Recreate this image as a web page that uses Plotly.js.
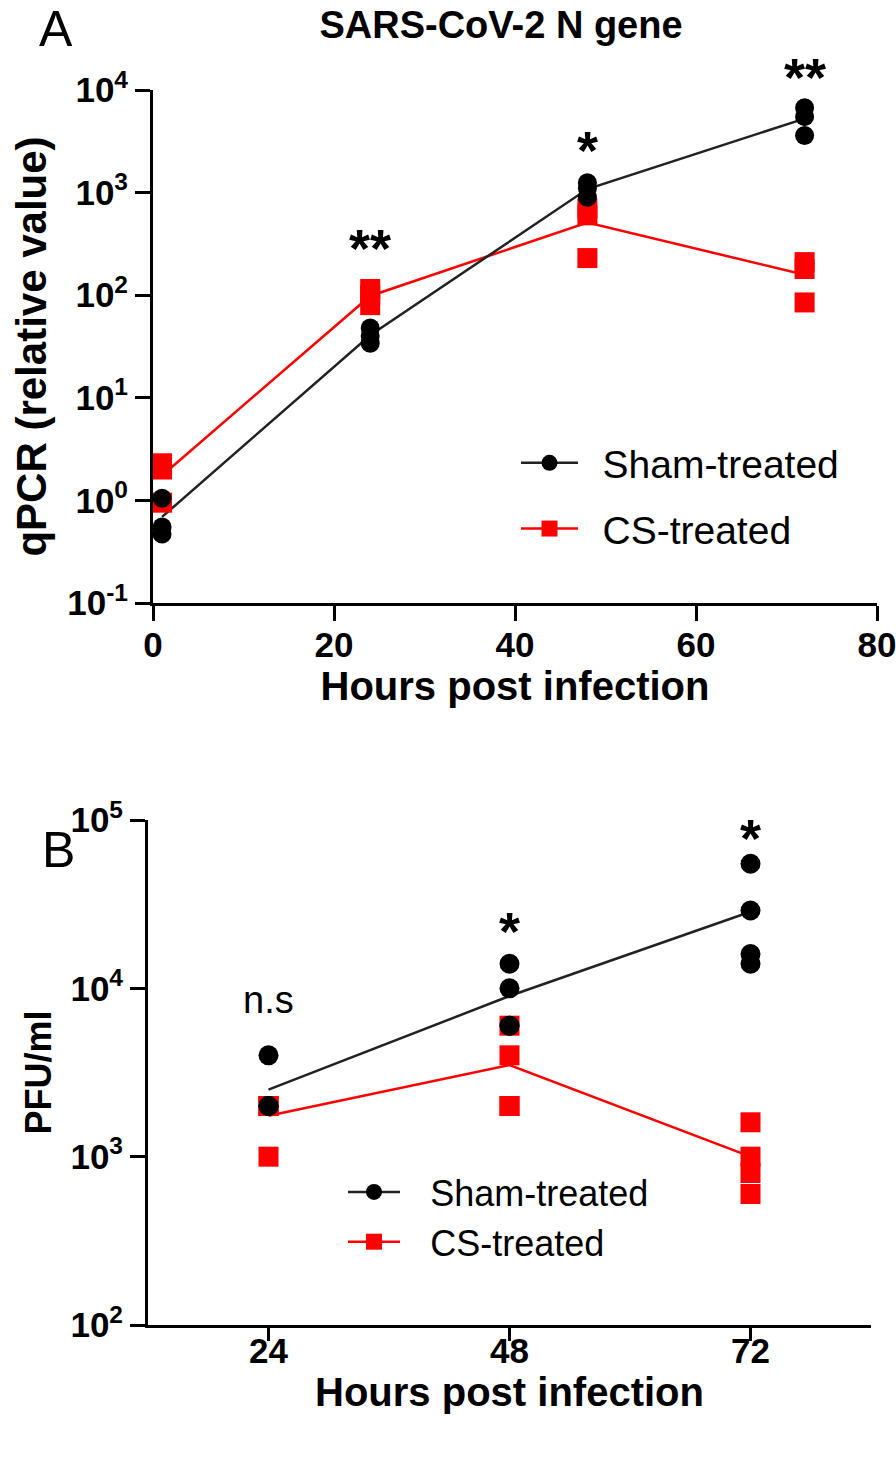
<!DOCTYPE html>
<html>
<head>
<meta charset="utf-8">
<script src="https://cdn.plot.ly/plotly-3.0.1.min.js"></script>
<style>html,body{margin:0;padding:0;background:#fff}#chart{width:896px;height:1470px}</style>
</head>
<body>
<div id="chart"></div>
<script>
// ---------- Panel A: qPCR of SARS-CoV-2 N gene ----------
const hoursA = [1, 24, 48, 72];
const shamA_rep1 = [1.05, 48, 1250, 6700];
const shamA_rep2 = [0.55, 40, 1100, 5500];
const shamA_rep3 = [0.47, 34, 900, 3600];
const csA_rep1 = [2.3, 115, 700, 210];
const csA_rep2 = [2.0, 100, 600, 180];
const csA_rep3 = [0.95, 80, 230, 85];
const sigA = ['**', '*', '**'];
const sigA_hours = [24, 48, 72];
const sigA_logy = [2.456, 3.42, 4.13];
const xTicksA = [0, 20, 40, 60, 80];
const yTicksA = [0.1, 1, 10, 100, 1000, 10000];
const yTickTextA = ['10<sup>-1</sup>', '10<sup>0</sup>', '10<sup>1</sup>', '10<sup>2</sup>', '10<sup>3</sup>', '10<sup>4</sup>'];

// ---------- Panel B: infectious titre ----------
const hoursB = [24, 48, 72];
const shamB_rep1 = [4000, 14000, 55000];
const shamB_rep2 = [2000, 10000, 29000];
const shamB_rep3 = [2000, 6000, 16000];
const shamB_rep4 = [2000, 6000, 14000];
const csB_rep1 = [2000, 6000, 1600];
const csB_rep2 = [2000, 4000, 1000];
const csB_rep3 = [2000, 2000, 800];
const csB_rep4 = [1000, 2000, 600];
const sigB = ['n.s', '*', '*'];
const sigB_hours = [24, 48, 72];
const sigB_logy = [3.93, 4.34, 4.893];
const xTicksB = [24, 48, 72];
const yTicksB = [100, 1000, 10000, 100000];
const yTickTextB = ['10<sup>2</sup>', '10<sup>3</sup>', '10<sup>4</sup>', '10<sup>5</sup>'];

const seriesNames = ['Sham-treated', 'CS-treated'];

// ---------- helpers ----------
function mean(reps) {
  return reps[0].map((_, i) => reps.reduce((s, r) => s + r[i], 0) / reps.length);
}
function flatX(hours, reps) { return reps.flatMap(() => hours); }
function flatY(reps) { return reps.flatMap(r => r); }

const FONT = 'Liberation Sans, Arial, Helvetica, sans-serif';
const BLACK = '#000000';
const RED = '#ff0000';
const LINEGRAY = '#222222';
const GAP_A = '\u2002';
const GAP_B = '\u2002\u2009';

const shamA = [shamA_rep1, shamA_rep2, shamA_rep3];
const csA = [csA_rep1, csA_rep2, csA_rep3];
const shamB = [shamB_rep1, shamB_rep2, shamB_rep3, shamB_rep4];
const csB = [csB_rep1, csB_rep2, csB_rep3, csB_rep4];

const traces = [
  // Panel A mean lines
  {x: hoursA, y: mean(csA), xaxis: 'x', yaxis: 'y', mode: 'lines', line: {color: RED, width: 2.5}, showlegend: false, hoverinfo: 'skip'},
  {x: hoursA, y: mean(shamA), xaxis: 'x', yaxis: 'y', mode: 'lines', line: {color: LINEGRAY, width: 2.5}, showlegend: false, hoverinfo: 'skip'},
  // Panel A points
  {x: flatX(hoursA, csA), y: flatY(csA), xaxis: 'x', yaxis: 'y', mode: 'markers', cliponaxis: false,
   marker: {symbol: 'square', size: 20, color: RED}, showlegend: false},
  {x: flatX(hoursA, shamA), y: flatY(shamA), xaxis: 'x', yaxis: 'y', mode: 'markers', cliponaxis: false,
   marker: {symbol: 'circle', size: 19, color: BLACK}, showlegend: false},
  // Panel A legend entries
  {x: [null], y: [null], xaxis: 'x', yaxis: 'y', mode: 'lines+markers', name: GAP_A + seriesNames[0], legend: 'legend', legendgroup: 'a1',
   line: {color: LINEGRAY, width: 2.5}, marker: {symbol: 'circle', size: 18, color: BLACK}},
  {x: [null], y: [null], xaxis: 'x', yaxis: 'y', mode: 'lines+markers', name: GAP_A + seriesNames[1], legend: 'legend', legendgroup: 'a2',
   line: {color: RED, width: 2.5}, marker: {symbol: 'square', size: 18, color: RED}},

  // Panel B mean lines
  {x: hoursB, y: mean(csB), xaxis: 'x2', yaxis: 'y2', mode: 'lines', line: {color: RED, width: 2.5}, showlegend: false, hoverinfo: 'skip'},
  {x: hoursB, y: mean(shamB), xaxis: 'x2', yaxis: 'y2', mode: 'lines', line: {color: LINEGRAY, width: 2.5}, showlegend: false, hoverinfo: 'skip'},
  // Panel B points
  {x: flatX(hoursB, csB), y: flatY(csB), xaxis: 'x2', yaxis: 'y2', mode: 'markers', cliponaxis: false,
   marker: {symbol: 'square', size: 20, color: RED}, showlegend: false},
  {x: flatX(hoursB, shamB), y: flatY(shamB), xaxis: 'x2', yaxis: 'y2', mode: 'markers', cliponaxis: false,
   marker: {symbol: 'circle', size: 20, color: BLACK}, showlegend: false},
  // Panel B legend entries
  {x: [null], y: [null], xaxis: 'x2', yaxis: 'y2', mode: 'lines+markers', name: GAP_B + seriesNames[0], legend: 'legend2', legendgroup: 'b1',
   line: {color: LINEGRAY, width: 2.5}, marker: {symbol: 'circle', size: 18, color: BLACK}},
  {x: [null], y: [null], xaxis: 'x2', yaxis: 'y2', mode: 'lines+markers', name: GAP_B + seriesNames[1], legend: 'legend2', legendgroup: 'b2',
   line: {color: RED, width: 2.5}, marker: {symbol: 'square', size: 18, color: RED}}
];

const W = 896, H = 1470;
const axisCommon = {
  showline: true, linecolor: BLACK, linewidth: 3, mirror: false,
  ticks: 'outside', ticklen: 15, tickwidth: 3, tickcolor: BLACK,
  showgrid: false, zeroline: false, ticklabeloverflow: 'allow',
  tickfont: {family: FONT, size: 35, color: BLACK, weight: 'bold'}
};
const titleFont = (s) => ({family: FONT, size: s, color: BLACK, weight: 'bold'});

const rangeA = [-1, 4];
const rangeB = [2, 5];
const annotations = [];
sigA.forEach((t, i) => annotations.push({
  xref: 'x', yref: 'y domain', x: sigA_hours[i],
  y: (sigA_logy[i] - rangeA[0]) / (rangeA[1] - rangeA[0]), yanchor: 'middle',
  text: t, showarrow: false,
  font: {family: FONT, size: 54, color: BLACK, weight: 'bold'}
}));
sigB.forEach((t, i) => annotations.push({
  xref: 'x2', yref: 'y2 domain', x: sigB_hours[i],
  y: (sigB_logy[i] - rangeB[0]) / (rangeB[1] - rangeB[0]), yanchor: 'middle',
  text: t, showarrow: false,
  font: {family: FONT, size: t === 'n.s' ? 38 : 54, color: BLACK, weight: t === 'n.s' ? 'normal' : 'bold'}
}));
annotations.push(
  {xref: 'paper', yref: 'paper', x: 56 / W, y: 1 - 29 / H, xanchor: 'center', yanchor: 'middle',
   text: 'A', showarrow: false, font: {family: FONT, size: 50, color: BLACK}},
  {xref: 'paper', yref: 'paper', x: 58 / W, y: 1 - 850 / H, xanchor: 'center', yanchor: 'middle',
   text: 'B', showarrow: false, font: {family: FONT, size: 50, color: BLACK}}
);

const layout = {
  width: W, height: H,
  margin: {l: 0, r: 0, t: 0, b: 0},
  paper_bgcolor: '#fff', plot_bgcolor: '#fff',
  title: {text: 'SARS-CoV-2 N gene', x: 501 / W, xanchor: 'center', y: 1 - 25 / H, yanchor: 'middle',
          font: {family: FONT, size: 38, color: BLACK, weight: 'bold'}},
  xaxis: Object.assign({}, axisCommon, {
    domain: [153 / W, 877 / W], range: [0, 80], anchor: 'y',
    tickmode: 'array', tickvals: xTicksA, ticklabelstandoff: -6,
    title: {text: 'Hours post infection', font: titleFont(40), standoff: 8}
  }),
  yaxis: Object.assign({}, axisCommon, {
    domain: [1 - 603 / H, 1 - 90 / H], type: 'log', range: rangeA, anchor: 'x',
    tickmode: 'array', tickvals: yTicksA, ticktext: yTickTextA,
    title: {text: 'qPCR (relative value)', font: titleFont(42), standoff: 8}
  }),
  xaxis2: Object.assign({}, axisCommon, {
    domain: [148 / W, 871 / W], range: [12, 84], anchor: 'y2',
    tickmode: 'array', tickvals: xTicksB, ticklen: 13, ticklabelstandoff: -20,
    title: {text: 'Hours post infection', font: titleFont(40), standoff: 6}
  }),
  yaxis2: Object.assign({}, axisCommon, {
    domain: [1 - 1325 / H, 1 - 820 / H], type: 'log', range: rangeB, anchor: 'x2',
    tickmode: 'array', tickvals: yTicksB, ticktext: yTickTextB,
    title: {text: 'PFU/ml', font: titleFont(36), standoff: 8}
  }),
  legend: {
    x: 516 / W, y: 1 - 431 / H, xanchor: 'left', yanchor: 'top',
    bgcolor: 'rgba(0,0,0,0)', borderwidth: 0, traceorder: 'grouped', tracegroupgap: 12,
    itemwidth: 57, font: {family: FONT, size: 39, color: BLACK}
  },
  legend2: {
    x: 343 / W, y: 1 - 1162 / H, xanchor: 'left', yanchor: 'top',
    bgcolor: 'rgba(0,0,0,0)', borderwidth: 0, traceorder: 'grouped', tracegroupgap: 0,
    itemwidth: 52, font: {family: FONT, size: 36, color: BLACK}
  },
  annotations: annotations,
  showlegend: true
};

Plotly.newPlot('chart', traces, layout, {staticPlot: true, displayModeBar: false});
</script>
</body>
</html>
